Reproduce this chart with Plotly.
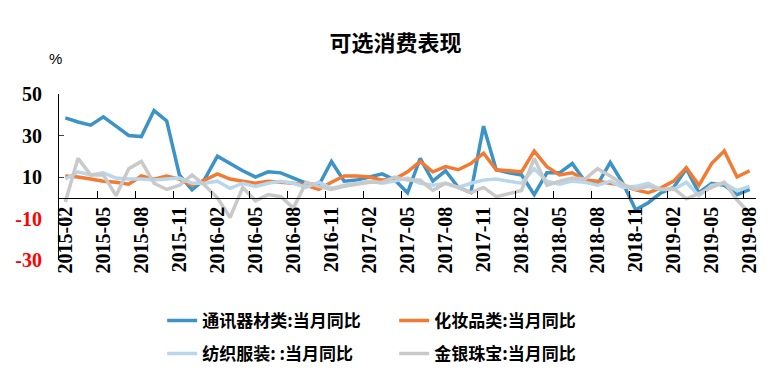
import plotly.graph_objects as go

months = [f"{y}-{m:02d}" for y in range(2015, 2020) for m in range(1, 13)]
months = months[months.index("2015-02"):months.index("2019-08") + 1]

comm = [38.5, 36.5, 35, 39, 34.5, 30, 29.5, 42, 37, 11, 3.8, 9, 20, 16.5, 13, 10, 12.5, 12, 9.5, 7,
        6, 17.5, 8, 8.5, 10, 11.5, 8.6, 2.4, 19, 8, 13, 5, 2.5, 34.5, 13.5, 12, 11, 1.5, 12, 12,
        16.5, 8, 6.5, 17, 7, -5.8, -2.4, 2.4, 5, 14, 2.4, 7, 6, 1.5, 4]
cosm = [10.5, 10, 9, 8, 7.5, 6.5, 10.5, 9, 10.5, 9, 6, 8.5, 11.5, 9, 8, 7, 8, 7.5, 7, 6,
        4, 7.5, 10.5, 10.5, 10, 8.5, 9, 12.5, 17.5, 12.5, 15, 13.5, 16.5, 21.5, 13.5, 13, 12.5, 22.5, 15, 11,
        12, 8.5, 8, 7, 6, 3.8, 2.4, 4.8, 8, 14.5, 6, 16.5, 22.5, 10, 13]
text = [9, 12.5, 11, 12, 9.5, 9, 9, 8.5, 9, 9.5, 7, 7, 8, 4.5, 7, 5.5, 7, 8, 7, 5,
        7.5, 4.5, 6, 7, 8, 7, 8, 9.5, 7, 6, 7, 5, 7, 8.5, 9, 8, 7, 14, 8, 6.5,
        8, 7.5, 6, 8, 5, 5.5, 7, 4, 4, 7.5, 1, 6, 7, 3.5, 5.5]
gold = [-2, 19, 11, 11, 1, 14, 17.5, 7, 4, 6, 11, 6, 0, -9.5, 5, -1.5, 1.5, 0.5, -5, 7.5,
        5.5, 4, 5.5, 6.5, 7.5, 7.5, 10, 8.5, 8.5, 3.5, 7, 5, 2.5, 5, 0.5, 2, 3.5, 19, 6, 8,
        9.5, 9, 14, 10.5, 6.5, 4, 5.5, 4, 4.5, -0.5, 2, 5, 7.5, -1, -7.5]

names = ["通讯器材类:当月同比", "化妆品类:当月同比", "纺织服装: :当月同比", "金银珠宝:当月同比"]
colors = ["#3C93C6", "#F37A33", "#B9D7EB", "#C9C9C9"]
series = [comm, cosm, text, gold]
legends = ["legend", "legend", "legend2", "legend2"]

y_ticks = [50, 30, 10, -10, -30]

x = list(range(len(months)))
fig = go.Figure()
for name, col, vals, lg in zip(names, colors, series, legends):
    fig.add_trace(go.Scatter(x=x, y=vals, mode="lines", name=name,
                             line=dict(color=col, width=3.5), legend=lg))

num_font = dict(family="Liberation Serif", size=20, color="black", weight="bold")
cjk_font = dict(family="Noto Sans CJK SC", size=17, color="black", weight="bold")

tickvals = x[::3]
ticktext = months[::3]
ytext = [f"<span style='color:{'red' if v < 0 else 'black'}'>{v}</span>" for v in y_ticks]

fig.update_layout(
    width=775, height=392,
    margin=dict(l=51, r=27, t=86, b=140, autoexpand=False),
    paper_bgcolor="white", plot_bgcolor="white",
    title=dict(text="可选消费表现", x=0.5, xanchor="center", y=0.91, yanchor="middle",
               font=dict(family="Noto Sans CJK SC", size=22, color="black", weight="bold")),
    xaxis=dict(range=[-0.5, len(x) - 0.5], anchor="free", position=0.375, automargin=False,
               showline=True, linecolor="black", linewidth=1,
               tickmode="array", tickvals=tickvals, ticktext=ticktext, tickangle=-90,
               ticks="", showgrid=False, zeroline=False, tickfont=num_font,
               minor=dict(tickmode="array", tickvals=[v - 0.5 for v in tickvals[1:]],
                          ticks="inside", ticklen=7, tickcolor="black", showgrid=False)),
    yaxis=dict(range=[-30, 50], tickmode="array", tickvals=y_ticks, ticktext=ytext,
               automargin=False, ticklabelstandoff=12,
               showline=True, linecolor="black", linewidth=1, ticks="inside", ticklen=5,
               showgrid=False, zeroline=False, tickfont=num_font),
    legend=dict(orientation="h", x=0.148, xanchor="left", y=-0.258, yanchor="top",
                entrywidth=187, entrywidthmode="pixels", font=cjk_font, itemwidth=30),
    legend2=dict(orientation="h", x=0.148, xanchor="left", y=-0.458, yanchor="top",
                 entrywidth=187, entrywidthmode="pixels", font=cjk_font, itemwidth=30),
    annotations=[dict(text="%", xref="paper", yref="paper", x=-0.005, y=1.15,
                      xanchor="center", yanchor="bottom", showarrow=False,
                      font=dict(family="Liberation Sans", size=15, color="black"))],
)

fig.write_html("out.html")
